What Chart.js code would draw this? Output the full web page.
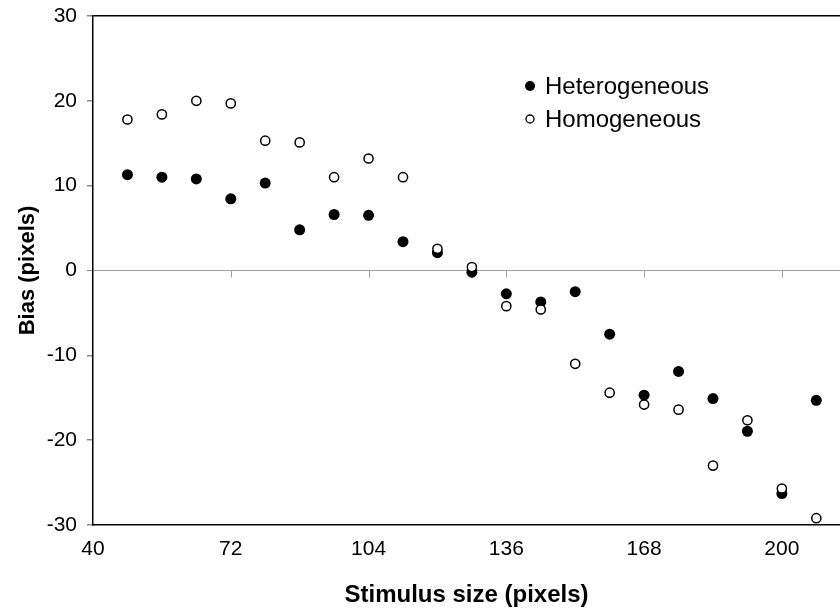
<!DOCTYPE html>
<html>
<head>
<meta charset="utf-8">
<script src="https://cdn.jsdelivr.net/npm/chart.js@4.4.1/dist/chart.umd.min.js"></script>
<style>
  html, body { margin: 0; padding: 0; background: #fff; overflow: hidden; }
  canvas { display: block; }
</style>
</head>
<body>
<canvas id="chart_bias" width="840" height="610"></canvas>
<script>
var stimulusSizes = [48, 56, 64, 72, 80, 88, 96, 104, 112, 120, 128, 136, 144, 152, 160, 168, 176, 184, 192, 200, 208];
var heterogeneous = [11.3, 11.0, 10.8, 8.45, 10.3, 4.8, 6.6, 6.5, 3.4, 2.1, -0.2, -2.75, -3.7, -2.5, -7.5, -14.7, -11.9, -15.1, -18.95, -26.3, -15.3];
var homogeneous = [17.8, 18.4, 20.0, 19.7, 15.3, 15.1, 11.0, 13.2, 11.0, 2.56, 0.4, -4.2, -4.6, -11.0, -14.4, -15.8, -16.4, -23.0, -17.65, -25.7, -29.2];
var xTickValues = [40, 72, 104, 136, 168, 200];
var yTickValues = [-30, -20, -10, 0, 10, 20, 30];

var FONT = '"Liberation Sans", Arial, sans-serif';

function toPoints(values) {
    return stimulusSizes.map(function (x, i) { return {x: x, y: values[i]}; });
}

var chart_bias = new Chart(document.getElementById('chart_bias'), {
    type: 'scatter',
    data: {
        datasets: [
            {
                label: 'Heterogeneous',
                data: toPoints(heterogeneous),
                pointRadius: 5.5,
                pointBackgroundColor: '#000',
                pointBorderColor: '#000',
                pointBorderWidth: 0,
                order: 1
            },
            {
                label: 'Homogeneous',
                data: toPoints(homogeneous),
                pointRadius: 4.6,
                pointBackgroundColor: '#fff',
                pointBorderColor: '#000',
                pointBorderWidth: 1.5,
                order: 0
            }
        ]
    },
    options: {
        animation: false,
        responsive: false,
        events: [],
        layout: {
            autoPadding: false,
            padding: {top: 16, right: 0, bottom: 0, left: 0}
        },
        plugins: {
            legend: {display: false},
            tooltip: {enabled: false}
        },
        scales: {
            x: {
                type: 'linear',
                min: 40,
                max: 213.5,
                afterBuildTicks: function (scale) {
                    scale.ticks = xTickValues.map(function (v) { return {value: v}; });
                },
                afterFit: function (scale) {
                    scale.height = 85;
                    scale.paddingLeft = 0;
                    scale.paddingRight = 0;
                },
                grid: {display: false, drawTicks: false},
                border: {display: true, color: '#000', width: 1.5},
                ticks: {
                    color: '#000',
                    padding: 12,
                    maxRotation: 0,
                    autoSkip: false,
                    font: {family: FONT, size: 21}
                },
                title: {
                    display: true,
                    text: 'Stimulus size (pixels)',
                    color: '#000',
                    font: {family: FONT, size: 24, weight: 'bold'},
                    padding: {top: 0, bottom: 0}
                }
            },
            y: {
                type: 'linear',
                min: -30,
                max: 30,
                afterBuildTicks: function (scale) {
                    scale.ticks = yTickValues.map(function (v) { return {value: v}; });
                },
                afterFit: function (scale) {
                    scale.width = 93;
                    scale.paddingTop = 0;
                    scale.paddingBottom = 0;
                },
                grid: {
                    drawOnChartArea: true,
                    drawTicks: true,
                    tickLength: 6,
                    tickColor: '#888',
                    lineWidth: function (ctx) {
                        return ctx.tick && ctx.tick.value === 0 ? 1 : 1.5;
                    },
                    color: function (ctx) {
                        if (!ctx.tick) return 'transparent';
                        if (ctx.tick.value === 30) return '#000';
                        if (ctx.tick.value === 0) return '#a0a0a0';
                        return 'transparent';
                    }
                },
                border: {display: true, color: '#000', width: 1.5},
                ticks: {
                    color: '#000',
                    padding: 10,
                    font: {family: FONT, size: 21}
                },
                title: {
                    display: true,
                    text: 'Bias (pixels)',
                    color: '#000',
                    font: {family: FONT, size: 22, weight: 'bold'},
                    padding: {top: 15, bottom: 0}
                }
            }
        }
    },
    plugins: [{
        id: 'zeroAxisTicks',
        afterDraw: function (chart) {
            var ctx = chart.ctx;
            var xs = chart.scales.x, ys = chart.scales.y;
            var y0 = ys.getPixelForValue(0);
            ctx.save();
            ctx.strokeStyle = '#a0a0a0';
            ctx.lineWidth = 1;
            xTickValues.forEach(function (v) {
                if (v === 40) return;
                var px = Math.round(xs.getPixelForValue(v)) + 0.5;
                ctx.beginPath();
                ctx.moveTo(px, y0);
                ctx.lineTo(px, y0 + 7);
                ctx.stroke();
            });
            ctx.restore();
        }
    }, {
        id: 'insideLegend',
        afterDraw: function (chart) {
            var ctx = chart.ctx;
            var rows = [86, 119];
            ctx.save();
            ctx.font = '24px ' + FONT;
            ctx.textBaseline = 'middle';
            ctx.fillStyle = '#000';
            chart.data.datasets.forEach(function (ds, i) {
                var y = rows[i];
                ctx.beginPath();
                ctx.arc(530, y, i === 0 ? 5 : 4, 0, Math.PI * 2);
                if (i === 0) {
                    ctx.fillStyle = '#000';
                    ctx.fill();
                } else {
                    ctx.fillStyle = '#fff';
                    ctx.fill();
                    ctx.lineWidth = 1.3;
                    ctx.strokeStyle = '#000';
                    ctx.stroke();
                }
                ctx.fillStyle = '#000';
                ctx.fillText(ds.label, 545, y + 1);
            });
            ctx.restore();
        }
    }]
});
</script>
</body>
</html>
